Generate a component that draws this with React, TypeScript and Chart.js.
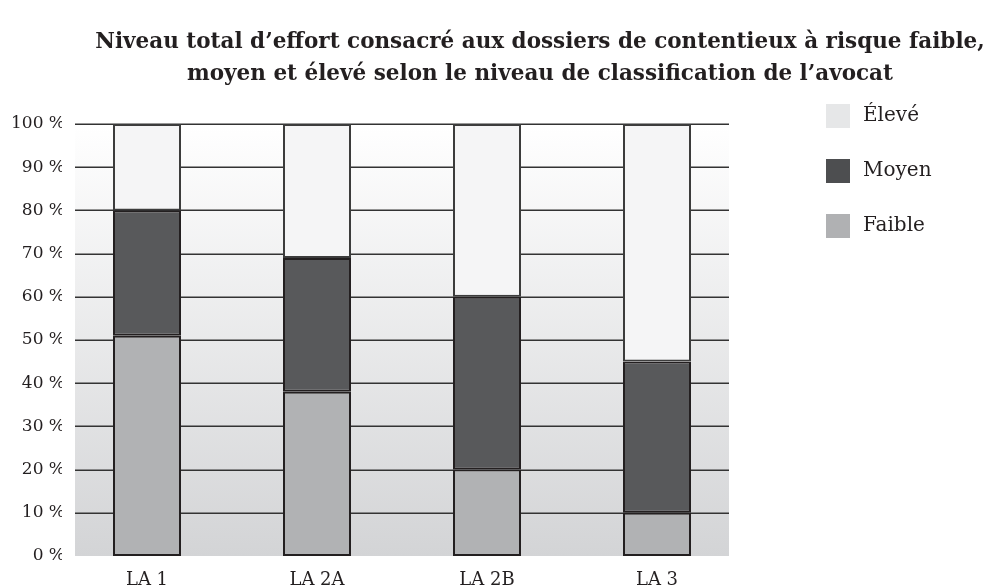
import React, { useEffect, useRef } from "react";
import { Chart, registerables } from "chart.js";

Chart.register(...registerables);

const titleLines = [
  "Niveau total d’effort consacré aux dossiers de contentieux à risque faible,",
  "moyen et élevé selon le niveau de classification de l’avocat",
];
const categories = ["LA 1", "LA 2A", "LA 2B", "LA 3"];
const faible = [51, 38, 20, 10];
const moyen = [29, 31, 40, 35];
const eleve = [20, 31, 40, 55];
const yTicks = [10, 20, 30, 40, 50, 60, 70, 80, 90, 100];
const legendLabels = ["Élevé", "Moyen", "Faible"];
const legendColors = ["#e6e7e8", "#4d4e50", "#b0b1b3"];

const FONT = "'DejaVu Serif', serif";

const bgPlugin = {
  id: "bgGradient",
  beforeDatasetsDraw(chart: any) {
    const { ctx, chartArea } = chart;
    const y = chart.scales.y;
    const left = chartArea.left + 13;
    const right = chartArea.right - 13;
    const g = ctx.createLinearGradient(0, chartArea.top, 0, chartArea.bottom);
    g.addColorStop(0, "#ffffff");
    g.addColorStop(1, "#d3d4d6");
    ctx.save();
    ctx.fillStyle = g;
    ctx.fillRect(left, chartArea.top, right - left, chartArea.bottom - chartArea.top);
    ctx.strokeStyle = "#333333";
    ctx.lineWidth = 1.5;
    yTicks.forEach((v) => {
      const py = Math.round(y.getPixelForValue(v)) + 0.25;
      ctx.beginPath();
      ctx.moveTo(left, py);
      ctx.lineTo(right, py);
      ctx.stroke();
    });
    ctx.restore();
  },
};

const decoPlugin = {
  id: "deco",
  afterDraw(chart: any) {
    const { ctx } = chart;
    ctx.save();
    ctx.fillStyle = "#231f20";
    ctx.textAlign = "center";
    ctx.textBaseline = "alphabetic";
    ctx.font = `bold 21.5px ${FONT}`;
    ctx.fillText(titleLines[0], 540, 48);
    ctx.fillText(titleLines[1], 540, 80);
    ctx.textAlign = "left";
    ctx.textBaseline = "middle";
    ctx.font = `20px ${FONT}`;
    legendLabels.forEach((lab, i) => {
      const y = 116 + i * 55;
      ctx.fillStyle = legendColors[i];
      ctx.fillRect(826, y - 12, 24, 24);
      ctx.fillStyle = "#231f20";
      ctx.fillText(lab, 863, y);
    });
    ctx.restore();
  },
};

export default function App() {
  const ref = useRef<HTMLCanvasElement>(null);
  useEffect(() => {
    document.body.style.margin = "0";
    document.body.style.overflow = "hidden";
    const chart = new Chart(ref.current!, {
      type: "bar",
      data: {
        labels: categories,
        datasets: [
          { label: "Faible", data: faible, backgroundColor: "#b1b2b4", borderColor: "#231f20", borderWidth: 2, borderSkipped: false },
          { label: "Moyen", data: moyen, backgroundColor: "#58595b", borderColor: "#231f20", borderWidth: 2, borderSkipped: false },
          { label: "Élevé", data: eleve, backgroundColor: "#f5f5f6", borderColor: "#3c3c3c", borderWidth: 2, borderSkipped: false },
        ],
      },
      options: {
        animation: false,
        responsive: false,
        maintainAspectRatio: false,
        layout: { padding: { top: 124, right: 252, left: 0, bottom: 0 } },
        datasets: { bar: { barPercentage: 0.4, categoryPercentage: 1 } },
        plugins: { legend: { display: false }, title: { display: false }, tooltip: { enabled: false } },
        scales: {
          x: {
            stacked: true,
            grid: { display: false },
            border: { display: false },
            ticks: { color: "#231f20", font: { family: FONT, size: 18 }, padding: 6 },
            afterFit(s: any) { s.height = 32; },
          },
          y: {
            stacked: true,
            min: 0,
            max: 100,
            border: { display: false },
            grid: { display: false, drawTicks: false },
            ticks: {
              stepSize: 10,
              padding: -3,
              color: "#231f20",
              font: { family: FONT, size: 17 },
              callback: (v: any) => `${v} %`,
            },
            afterFit(s: any) { s.width = 62; },
          },
        },
      },
      plugins: [bgPlugin, decoPlugin],
    });
    return () => chart.destroy();
  }, []);
  return <canvas ref={ref} width={994} height={588} style={{ display: "block" }} />;
}
